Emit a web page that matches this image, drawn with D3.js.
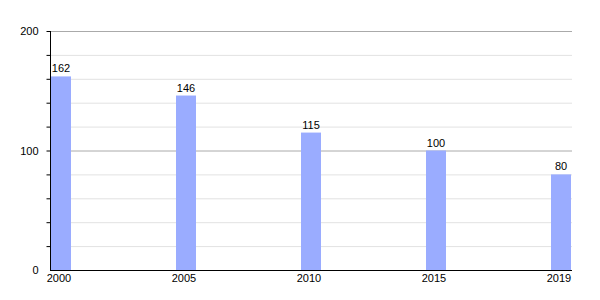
<!DOCTYPE html>
<html>
<head>
<meta charset="utf-8">
<script src="https://cdn.jsdelivr.net/npm/d3@7"></script>
<style>
body { margin: 0; background: #fff; }
text { font-family: "Liberation Sans", Arial, sans-serif; font-size: 11px; fill: #000; }
</style>
</head>
<body>
<script>
const years = ["2000", "2005", "2010", "2015", "2019"];
const values = [162, 146, 115, 100, 80];
const majorTicks = [0, 100, 200];
const minorTicks = [20, 40, 60, 80, 120, 140, 160, 180];
const axisTicks = [20, 40, 60, 80, 100, 120, 140, 160, 180, 200];

const width = 600, height = 300;
const plot = { left: 50, right: 572, top: 31, bottom: 270 };
const barWidth = 20;

const svg = d3.select("body").append("svg")
	.attr("width", width)
	.attr("height", height);

const y = d3.scaleLinear().domain([0, 200]).range([plot.bottom, plot.top]);
const x = d3.scalePoint().domain(years).range([plot.left + 11, plot.right - 11]);

// minor grid
svg.append("g").selectAll("line")
	.data(minorTicks)
	.join("line")
	.attr("x1", plot.left).attr("x2", plot.right)
	.attr("y1", d => y(d) + 0.5).attr("y2", d => y(d) + 0.5)
	.attr("stroke", "#e2e2e2");

// major grid
svg.append("g").selectAll("line")
	.data(majorTicks.filter(d => d > 0))
	.join("line")
	.attr("x1", plot.left).attr("x2", plot.right)
	.attr("y1", d => y(d) + 0.5).attr("y2", d => y(d) + 0.5)
	.attr("stroke", "#aaaaaa");

// bars
svg.append("g").selectAll("rect")
	.data(values)
	.join("rect")
	.attr("x", (d, i) => x(years[i]) - barWidth / 2)
	.attr("width", barWidth)
	.attr("y", d => y(d))
	.attr("height", d => y(0) - y(d))
	.attr("fill", "#9aacff");

// value labels
svg.append("g").selectAll("text")
	.data(values)
	.join("text")
	.attr("x", (d, i) => x(years[i]))
	.attr("y", d => y(d) - 4)
	.attr("text-anchor", "middle")
	.text(d => d);

// y axis
const yAxis = svg.append("g").attr("transform", `translate(${plot.left + 0.5},0)`);
yAxis.append("line")
	.attr("y1", plot.top).attr("y2", plot.bottom)
	.attr("stroke", "#000");
yAxis.selectAll("line.tick")
	.data(axisTicks)
	.join("line")
	.attr("class", "tick")
	.attr("x1", -4).attr("x2", 0)
	.attr("y1", d => y(d) + 0.5).attr("y2", d => y(d) + 0.5)
	.attr("stroke", "#000");
yAxis.selectAll("text")
	.data(majorTicks)
	.join("text")
	.attr("x", -12)
	.attr("y", d => y(d) + 4)
	.attr("text-anchor", "end")
	.text(d => d);

// x axis
svg.append("line")
	.attr("x1", plot.left).attr("x2", plot.right)
	.attr("y1", plot.bottom + 0.5).attr("y2", plot.bottom + 0.5)
	.attr("stroke", "#000");
svg.append("g").selectAll("text")
	.data(years)
	.join("text")
	.attr("x", d => x(d) - 2)
	.attr("y", plot.bottom + 12)
	.attr("text-anchor", "middle")
	.text(d => d);
</script>
</body>
</html>
